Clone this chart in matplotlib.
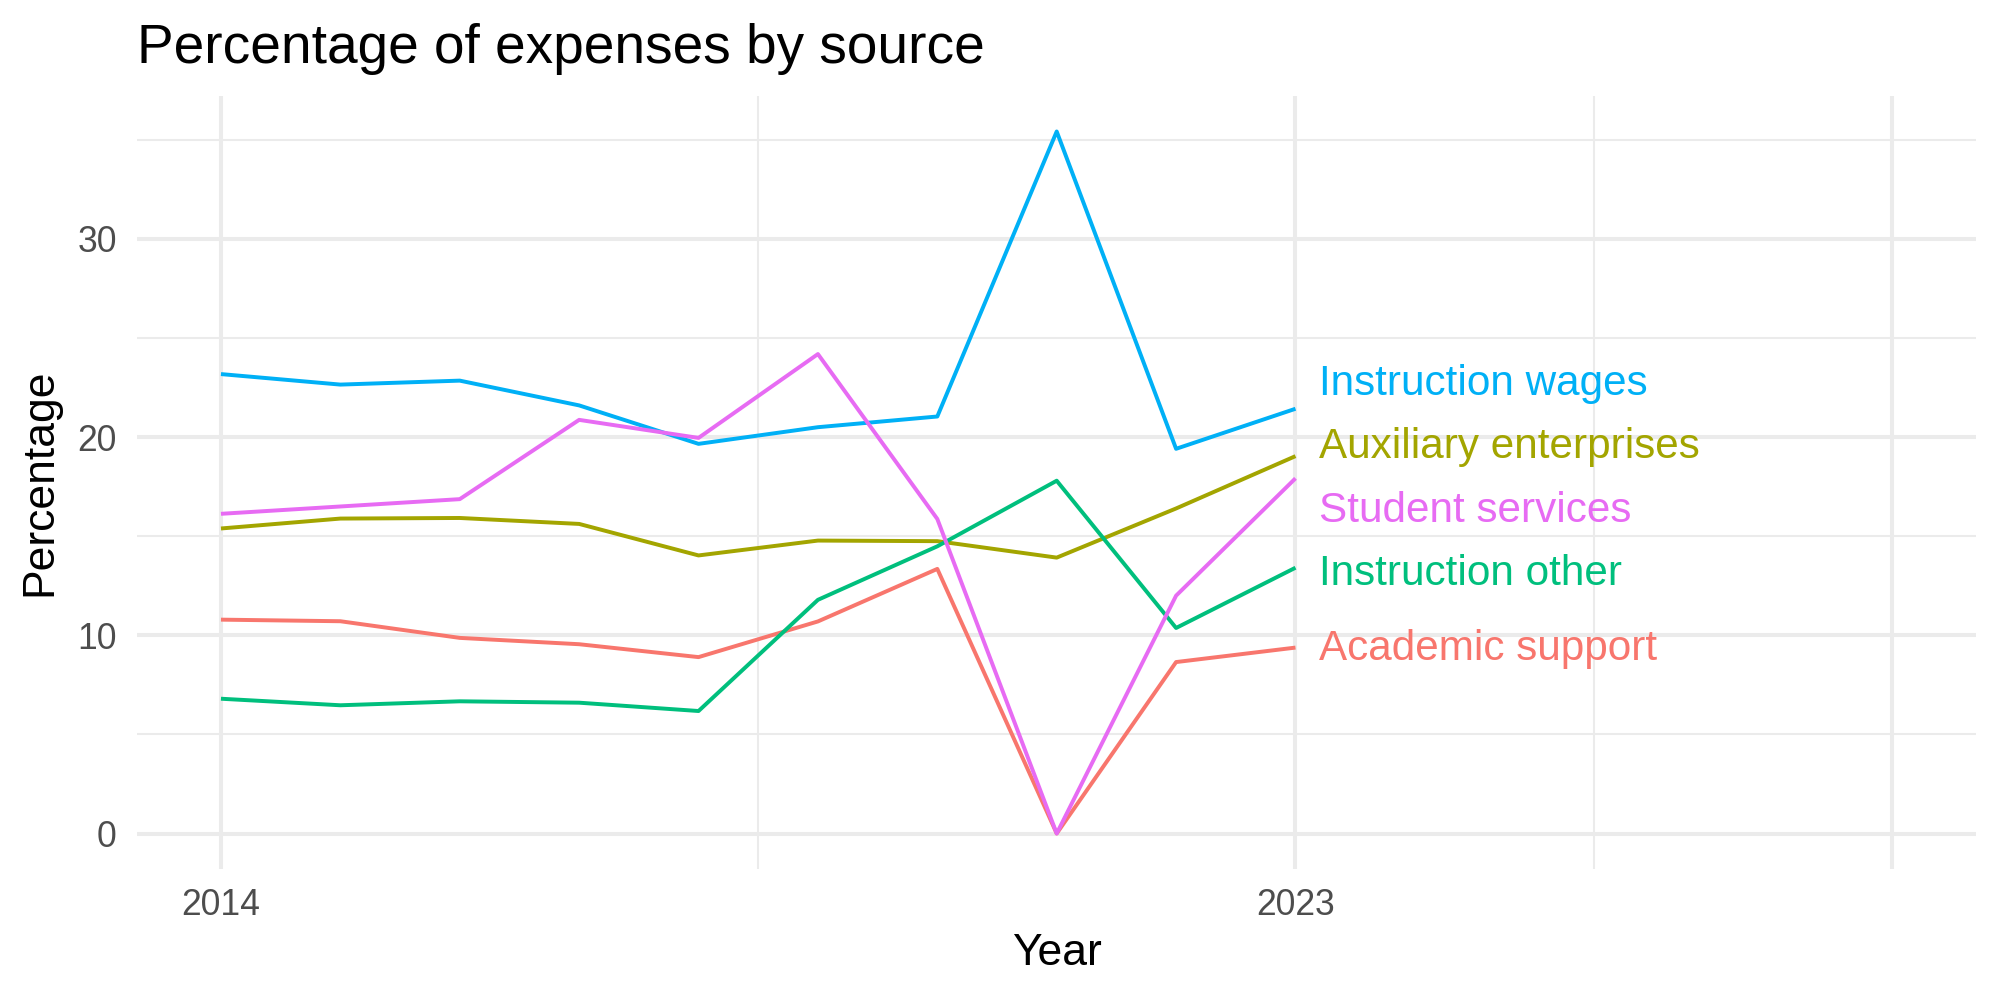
import matplotlib
matplotlib.use("Agg")
import matplotlib.pyplot as plt
import numpy as np

# ---------------- data ----------------
years = [2014, 2015, 2016, 2017, 2018, 2019, 2020, 2021, 2022, 2023]
series_names = ["Academic support", "Auxiliary enterprises", "Instruction other",
                "Instruction wages", "Student services"]
academic_support = [10.79, 10.71, 9.87, 9.55, 8.90, 10.70, 13.35, 0.0, 8.65, 9.38]
auxiliary_enterprises = [15.39, 15.89, 15.92, 15.62, 14.03, 14.78, 14.75, 13.92, 16.40, 19.04]
instruction_other = [6.80, 6.47, 6.67, 6.60, 6.18, 11.79, 14.49, 17.80, 10.37, 13.41]
instruction_wages = [23.18, 22.65, 22.85, 21.60, 19.66, 20.50, 21.04, 35.42, 19.41, 21.43]
student_services = [16.13, 16.50, 16.87, 20.87, 19.96, 24.19, 15.87, 0.0, 12.00, 17.92]

x_major_ticks = [2014, 2023, 2028]
x_tick_labels = ["2014", "2023", ""]
x_minor_ticks = [2018.5, 2025.5]
y_major_ticks = [0, 10, 20, 30]
y_tick_labels = ["0", "10", "20", "30"]
y_minor_ticks = [5, 15, 25, 35]
x_data_limits = [2014, 2028]

title = "Percentage of expenses by source"
x_title = "Year"
y_title = "Percentage"

colors = ["#F8766D", "#A3A500", "#00BF7D", "#00B0F6", "#E76BF3"]

values = [academic_support, auxiliary_enterprises, instruction_other,
          instruction_wages, student_services]

# ---------------- style ----------------
plt.rcParams["font.family"] = ["Liberation Sans", "DejaVu Sans"]
grid_col = "#EBEBEB"

fig = plt.figure(figsize=(10, 5), dpi=200)
ax = fig.add_axes([0.0687, 0.1314, 0.9193, 0.7722])

for name, vals, col in zip(series_names, values, colors):
    ax.plot(years, vals, color=col, lw=1.42, solid_joinstyle="round",
            solid_capstyle="butt", zorder=3)

# direct labels with simple repel (spread apart with a minimum gap)
last_vals = np.array([v[-1] for v in values])
gap = 3.2
order = np.argsort(last_vals)
blocks = []
def block_pos(idx):
    n = len(idx)
    c = np.mean([last_vals[i] for i in idx])
    return [c + (k - (n - 1) / 2) * gap for k in range(n)]
for i in order:
    blocks.append([i])
    while len(blocks) > 1:
        prev, cur = blocks[-2], blocks[-1]
        if block_pos(prev)[-1] + gap > block_pos(cur)[0]:
            blocks[-2] = prev + cur
            blocks.pop()
        else:
            break
label_y = np.zeros(len(values))
for b in blocks:
    for i, p in zip(b, block_pos(b)):
        label_y[i] = p

label_size = 15.2
for i, (name, col) in enumerate(zip(series_names, colors)):
    ax.annotate(name, xy=(years[-1] + 0.2, label_y[i]),
                xytext=(0, -0.716 * label_size / 2 + 1.0), textcoords="offset points",
                ha="left", va="baseline", color=col, fontsize=label_size,
                annotation_clip=False, zorder=4)

# scales with ggplot-like 5% expansion
xr = x_data_limits[1] - x_data_limits[0]
ax.set_xlim(x_data_limits[0] - 0.05 * xr, x_data_limits[1] + 0.05 * xr)
all_vals = np.concatenate([np.array(v) for v in values])
ymin, ymax = all_vals.min(), all_vals.max()
yr = ymax - ymin
ax.set_ylim(ymin - 0.05 * yr, ymax + 0.05 * yr)

ax.set_xticks(x_major_ticks)
ax.set_xticklabels(x_tick_labels)
ax.set_xticks(x_minor_ticks, minor=True)
ax.set_yticks(y_major_ticks)
ax.set_yticklabels(y_tick_labels)
ax.set_yticks(y_minor_ticks, minor=True)

ax.grid(which="major", color=grid_col, lw=1.45)
ax.grid(which="minor", color=grid_col, lw=0.75)
ax.set_axisbelow(True)
for s in ax.spines.values():
    s.set_visible(False)
ax.tick_params(which="both", length=0)
ax.tick_params(axis="y", pad=7.4, labelsize=12.8, labelcolor="#4D4D4D")
ax.tick_params(axis="x", pad=7.0, labelsize=12.8, labelcolor="#4D4D4D")

fig.text(0.0687, 0.937, title, ha="left", va="baseline", fontsize=19.8, color="black")
fig.text(0.5284, 0.035, x_title, ha="center", va="baseline", fontsize=16, color="black")
fig.text(0.020, 0.518, y_title, ha="center", va="center", rotation=90, fontsize=16,
         color="black")

fig.savefig("out.png", dpi=200, facecolor="white")
